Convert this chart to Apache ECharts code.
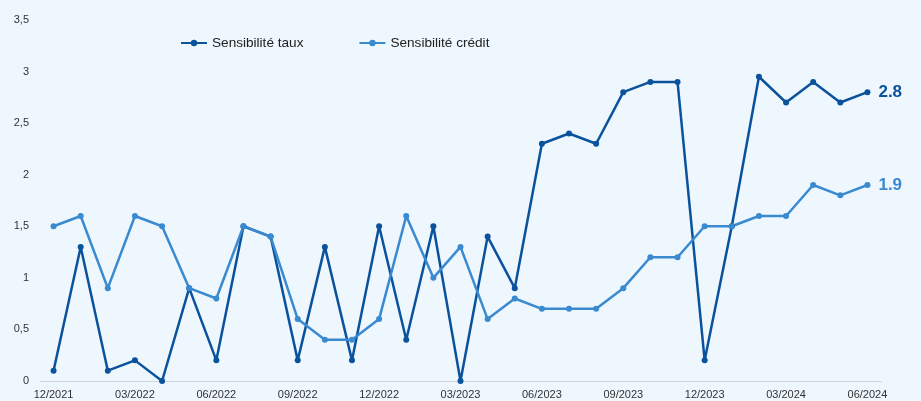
<!DOCTYPE html>
<html>
<head>
<meta charset="utf-8">
<script src="https://cdn.jsdelivr.net/npm/echarts@6/dist/echarts.min.js"></script>
<style>
  html, body { margin: 0; padding: 0; background: #eef6fe; }
  #chart { width: 921px; height: 401px; }
</style>
</head>
<body>
<div id="chart"></div>
<script>
// months 12/2021 .. 06/2024
const months = [
  '12/2021', '01/2022', '02/2022', '03/2022', '04/2022', '05/2022', '06/2022',
  '07/2022', '08/2022', '09/2022', '10/2022', '11/2022', '12/2022',
  '01/2023', '02/2023', '03/2023', '04/2023', '05/2023', '06/2023',
  '07/2023', '08/2023', '09/2023', '10/2023', '11/2023', '12/2023',
  '01/2024', '02/2024', '03/2024', '04/2024', '05/2024', '06/2024'
];
const sensiTaux = [
  0.1, 1.3, 0.1, 0.2, 0, 0.9, 0.2, 1.5, 1.4, 0.2, 1.3, 0.2, 1.5,
  0.4, 1.5, 0, 1.4, 0.9, 2.3, 2.4, 2.3, 2.8, 2.9, 2.9, 0.2,
  1.5, 2.95, 2.7, 2.9, 2.7, 2.8
];
const sensiCredit = [
  1.5, 1.6, 0.9, 1.6, 1.5, 0.9, 0.8, 1.5, 1.4, 0.6, 0.4, 0.4, 0.6,
  1.6, 1.0, 1.3, 0.6, 0.8, 0.7, 0.7, 0.7, 0.9, 1.2, 1.2, 1.5,
  1.5, 1.6, 1.6, 1.9, 1.8, 1.9
];

const darkBlue = '#0a539c';
const lightBlue = '#3a8ad0';
const font = 'Helvetica, Arial, "Liberation Sans", sans-serif';

const chart = echarts.init(document.getElementById('chart'));

function serie(name, data, color) {
  return {
    name: name,
    type: 'line',
    data: data,
    symbol: 'circle',
    symbolSize: 6,
    itemStyle: { color: color },
    lineStyle: { color: color, width: 2.5 },
    endLabel: {
      show: true,
      formatter: function (p) { return p.value.toFixed(1); },
      color: color,
      fontSize: 17,
      fontWeight: 'bold',
      fontFamily: font,
      distance: 11
    }
  };
}

chart.setOption({
  backgroundColor: '#eef6fe',
  animation: false,
  textStyle: { fontFamily: font },
  legend: {
    top: 31,
    left: 175,
    itemWidth: 26,
    itemHeight: 8,
    itemGap: 55,
    textStyle: { color: '#222', fontSize: 13.6, fontFamily: font },
    data: ['Sensibilité taux', 'Sensibilité crédit']
  },
  grid: { left: 40, right: 40, top: 20, bottom: 20 },
  xAxis: {
    type: 'category',
    data: months,
    boundaryGap: true,
    axisLine: { lineStyle: { color: '#cfd4da' } },
    axisTick: { lineStyle: { color: '#cfd4da' }, length: 4, interval: 2 },
    axisLabel: { interval: 2, color: '#333', fontSize: 11, margin: 8 }
  },
  yAxis: {
    type: 'value',
    min: 0,
    max: 3.5,
    interval: 0.5,
    splitLine: { show: false },
    axisLine: { show: false },
    axisTick: { show: false },
    axisLabel: {
      color: '#333',
      fontSize: 11,
      margin: 11,
      formatter: function (v) { return String(v).replace('.', ','); }
    }
  },
  series: [
    serie('Sensibilité taux', sensiTaux, darkBlue),
    serie('Sensibilité crédit', sensiCredit, lightBlue)
  ]
});
</script>
</body>
</html>
